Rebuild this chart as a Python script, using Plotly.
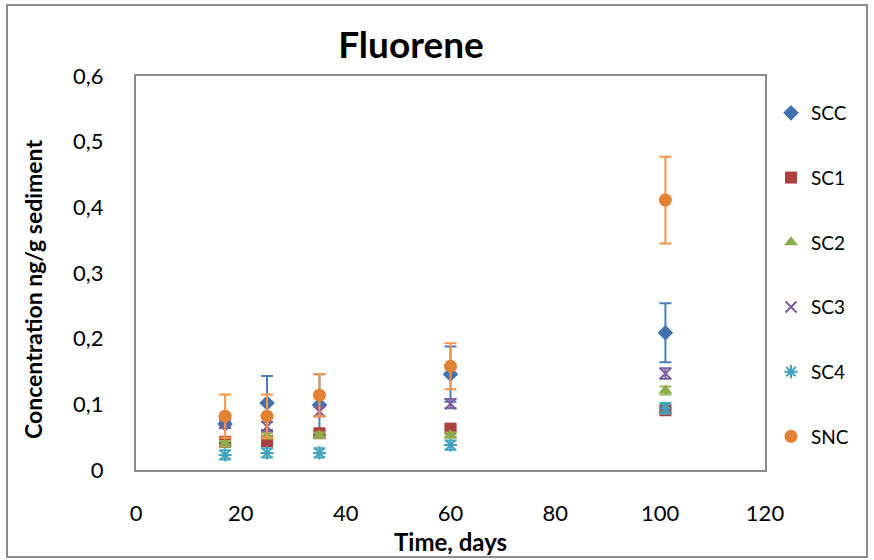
import plotly.graph_objects as go

days = [17, 25, 35, 60, 101]
names = ["SCC", "SC1", "SC2", "SC3", "SC4", "SNC"]
scc = [0.070, 0.102, 0.099, 0.146, 0.209]
scc_err = [0.005, 0.041, 0.047, 0.042, 0.045]
sc1 = [0.043, 0.044, 0.056, 0.063, 0.091]
sc1_err = [0.003, 0.003, 0.003, 0.003, 0.003]
sc2 = [0.040, 0.052, 0.053, 0.053, 0.121]
sc2_err = [0.004, 0.004, 0.004, 0.004, 0.006]
sc3 = [0.071, 0.066, 0.089, 0.101, 0.147]
sc3_err = [0.007, 0.007, 0.007, 0.007, 0.008]
sc4 = [0.023, 0.026, 0.026, 0.038, 0.094]
sc4_err = [0.007, 0.007, 0.007, 0.007, 0.008]
snc = [0.082, 0.082, 0.114, 0.158, 0.411]
snc_err = [0.033, 0.033, 0.032, 0.035, 0.066]

series = [scc, sc1, sc2, sc3, sc4, snc]
errors = [scc_err, sc1_err, sc2_err, sc3_err, sc4_err, snc_err]
colors = ["#4272AE", "#AB4240", "#8CAD4C", "#7A5F9E", "#43A3BF", "#E28236"]
err_colors = ["#4A7EBB", "#BE4B48", "#98B954", "#7D60A0", "#46AAC5", "#F79646"]
symbols = ["diamond", "square", "triangle-up", "x-thin-open", "asterisk-open", "circle"]
sizes = [12, 12, 12, 11, 11, 13]

FONT = "Lato"
fig = go.Figure()
for i, n in enumerate(names):
    line_w = 2 if symbols[i] in ("x-thin-open", "asterisk-open") else 0
    fig.add_trace(go.Scatter(
        x=days, y=series[i], name=n, mode="markers",
        legendgroup=n,
        marker=dict(symbol=symbols[i], size=sizes[i], color=colors[i],
                    line=dict(width=line_w, color=colors[i])),
        error_y=dict(type="data", array=errors[i], visible=True,
                     color=err_colors[i], thickness=2, width=6),
    ))

fig.update_layout(
    width=874, height=560,
    margin=dict(l=136, r=109, t=76, b=90),
    paper_bgcolor="white", plot_bgcolor="white",
    separators=",.",
    font=dict(family=FONT, color="black", size=22),
    title=dict(text="<b>Fluorene</b>", x=411/874, xanchor="center",
               xref="container", y=1 - 45/560, yanchor="middle",
               yref="container", font=dict(size=37, family=FONT)),
    showlegend=True,
    legend=dict(x=1.0 + 6/629, xanchor="left", y=(470-94)/394, yanchor="top",
                font=dict(size=19, family=FONT), tracegroupgap=37,
                bgcolor="rgba(0,0,0,0)"),
)
fig.update_xaxes(range=[0, 120], dtick=20, tick0=0, showgrid=False,
                 zeroline=False, showline=True, mirror=True,
                 linecolor="#8C8C8C", linewidth=2, ticks="",
                 ticklabelstandoff=23, tickfont=dict(size=22))
fig.update_yaxes(range=[0, 0.6], dtick=0.1, tick0=0, showgrid=False,
                 zeroline=False, showline=True, mirror=True,
                 linecolor="#8C8C8C", linewidth=2, ticks="",
                 ticklabelstandoff=26, tickfont=dict(size=22))

fig.add_annotation(text="<b>Time, days</b>", xref="paper", yref="paper",
                   x=(450-136)/629, y=(470-541)/394, xanchor="center",
                   yanchor="middle", showarrow=False, font=dict(size=24))
fig.add_annotation(text="<b>Concentration ng/g sediment</b>", xref="paper",
                   yref="paper", x=(33-136)/629, y=(470-289)/394,
                   xanchor="center", yanchor="middle", textangle=-90,
                   showarrow=False, font=dict(size=23))
fig.add_shape(type="rect", xref="paper", yref="paper",
              x0=(7-136)/629, x1=(867-136)/629,
              y0=(470-557)/394, y1=(470-5)/394,
              line=dict(color="#8C8C8C", width=2), layer="below")

fig.write_html("out.html")
